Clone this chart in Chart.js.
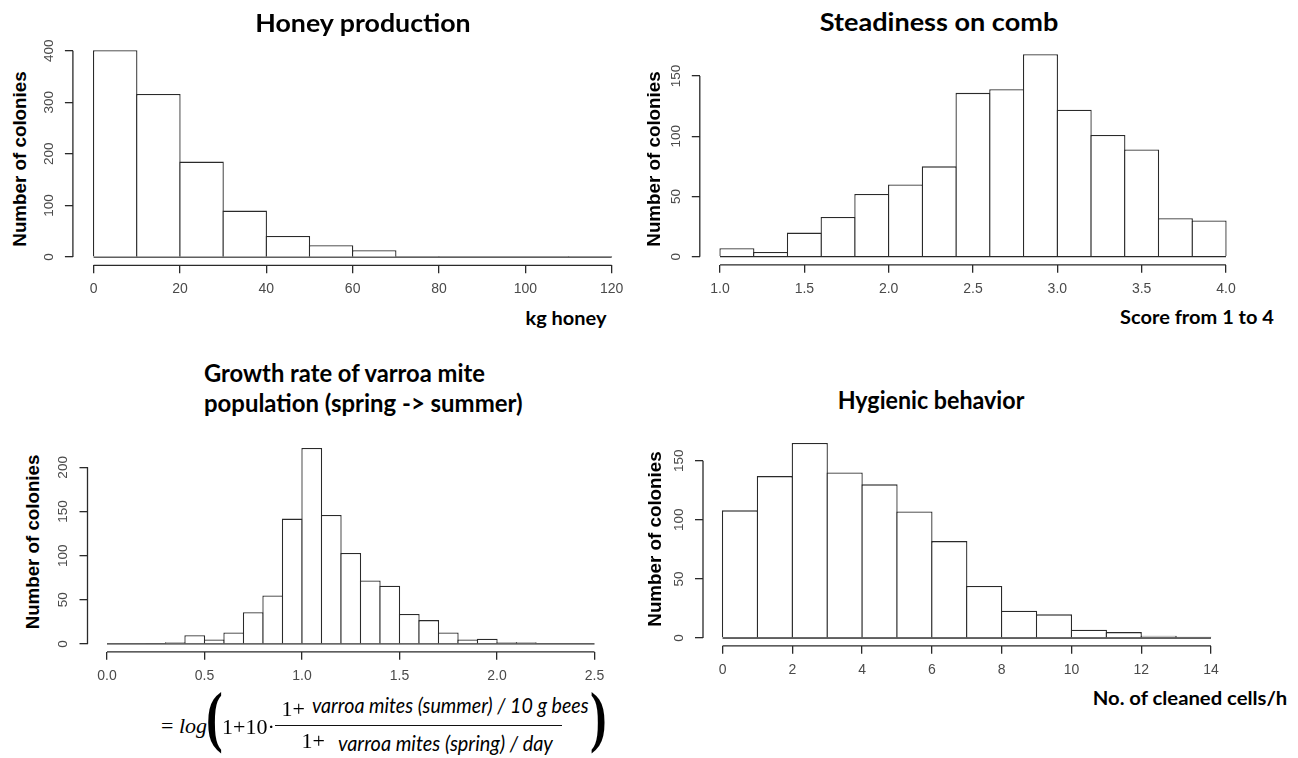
<!DOCTYPE html>
<html>
<head>
<meta charset="utf-8">
<script src="https://cdn.jsdelivr.net/npm/chart.js@4.4.1/dist/chart.umd.min.js"></script>
<style>
html, body { margin: 0; padding: 0; background: #fff; }
body { width: 1298px; height: 758px; position: relative; overflow: hidden; }
canvas { position: absolute; }
.t { position: absolute; white-space: nowrap; line-height: 1; color: #000; }
.ttl { font-family: Lato, "Open Sans", sans-serif; font-weight: 700; font-size: 24px; }
.xl { font-family: Lato, "Open Sans", sans-serif; font-weight: 700; font-size: 18px; }
.yl { font-family: "Liberation Sans", Arial, sans-serif; font-weight: 700; font-size: 19px; }
.ser { font-family: "Liberation Serif", "DejaVu Serif", serif; font-size: 22px; }
.it { font-family: Lato, "Open Sans", sans-serif; font-style: italic; font-size: 21px; }
.par { font-family: "Liberation Serif", "DejaVu Serif", serif; font-weight: 700; font-size: 68px; }
.frac { position: absolute; background: #111; }
</style>
</head>
<body>
<script>
// ---- data ----
const honeyBreaks = [0, 10, 20, 30, 40, 50, 60, 70, 80, 90, 100, 110, 120]
const honeyCounts = [401, 316, 185, 90, 41, 23, 13, 2, 0, 0, 0, 2]
const honeyXTicks = [0, 20, 40, 60, 80, 100, 120]
const honeyXLabels = ["0", "20", "40", "60", "80", "100", "120"]
const honeyYTicks = [0, 100, 200, 300, 400]
const honeyYLabels = ["0", "100", "200", "300", "400"]

const combBreaks = [1.0, 1.2, 1.4, 1.6, 1.8, 2.0, 2.2, 2.4, 2.6, 2.8, 3.0, 3.2, 3.4, 3.6, 3.8, 4.0]
const combCounts = [7, 4, 20, 33, 52, 60, 75, 136, 139, 168, 122, 101, 89, 32, 30]
const combXTicks = [1.0, 1.5, 2.0, 2.5, 3.0, 3.5, 4.0]
const combXLabels = ["1.0", "1.5", "2.0", "2.5", "3.0", "3.5", "4.0"]
const combYTicks = [0, 50, 100, 150]
const combYLabels = ["0", "50", "100", "150"]

const miteBreaks = [0.0, 0.1, 0.2, 0.3, 0.4, 0.5, 0.6, 0.7, 0.8, 0.9, 1.0, 1.1, 1.2,
                    1.3, 1.4, 1.5, 1.6, 1.7, 1.8, 1.9, 2.0, 2.1, 2.2, 2.3, 2.4, 2.5]
const miteCounts = [0, 0, 1, 2, 10, 5, 13, 36, 55, 142, 222, 146, 103,
                    72, 66, 34, 27, 13, 5, 6, 2, 2, 0, 0, 0]
const miteXTicks = [0.0, 0.5, 1.0, 1.5, 2.0, 2.5]
const miteXLabels = ["0.0", "0.5", "1.0", "1.5", "2.0", "2.5"]
const miteYTicks = [0, 50, 100, 150, 200]
const miteYLabels = ["0", "50", "100", "150", "200"]

const hygBreaks = [0, 1, 2, 3, 4, 5, 6, 7, 8, 9, 10, 11, 12, 13, 14]
const hygCounts = [108, 137, 165, 140, 130, 107, 82, 44, 23, 20, 7, 5, 2, 1]
const hygXTicks = [0, 2, 4, 6, 8, 10, 12, 14]
const hygXLabels = ["0", "2", "4", "6", "8", "10", "12", "14"]
const hygYTicks = [0, 50, 100, 150]
const hygYLabels = ["0", "50", "100", "150"]

// ---- look ----
const LINE = "#2a2a2a"
const TICK = "#4a4a4a"
const LW = 1.3
const Y_W = 40, X_H = 36, PAD_T = 6, PAD_R = 16

Chart.defaults.font.family = '"Liberation Sans", Arial, sans-serif'

// R style axes: the axis line only runs from the first to the last tick
const rAxes = {
    id: "rAxes",
    afterDraw(chart) {
        const { ctx, chartArea: a, scales: { x, y } } = chart
        const xt = x.ticks, yt = y.ticks
        ctx.save()
        ctx.strokeStyle = LINE
        ctx.lineWidth = LW
        ctx.beginPath()
        ctx.moveTo(x.getPixelForValue(xt[0].value), a.bottom)
        ctx.lineTo(x.getPixelForValue(xt[xt.length - 1].value), a.bottom)
        ctx.moveTo(a.left, y.getPixelForValue(yt[0].value))
        ctx.lineTo(a.left, y.getPixelForValue(yt[yt.length - 1].value))
        ctx.stroke()
        ctx.restore()
    }
}

function histPanel(p) {
    const box = p.box
    const cl = Math.floor(box.left - Y_W), ct = Math.floor(box.top - PAD_T)
    const w = Math.ceil(box.right + PAD_R - cl), h = Math.ceil(box.bottom + X_H - ct)
    const canvas = document.createElement("canvas")
    canvas.width = w
    canvas.height = h
    canvas.style.left = cl + "px"
    canvas.style.top = ct + "px"
    canvas.style.width = w + "px"
    canvas.style.height = h + "px"
    document.body.appendChild(canvas)

    const centers = p.breaks.slice(0, -1).map((b, i) => (b + p.breaks[i + 1]) / 2)
    const binPx = (p.breaks[1] - p.breaks[0]) * (box.right - box.left) / (p.xr[1] - p.xr[0])

    const axisGrid = { offset: false, drawOnChartArea: false, drawTicks: true, tickLength: 8, color: LINE, lineWidth: LW }

    new Chart(canvas, {
        type: "bar",
        data: {
            datasets: [
                {
                    type: "bar",
                    data: centers.map((c, i) => ({ x: c, y: p.counts[i] })),
                    backgroundColor: "#fff",
                    borderColor: LINE,
                    borderWidth: LW,
                    borderSkipped: "start",
                    barPercentage: 1 + LW / binPx,
                    categoryPercentage: 1,
                    inflateAmount: 0
                },
                {
                    type: "line",
                    data: [{ x: p.breaks[0], y: 0 }, { x: p.breaks[p.breaks.length - 1], y: 0 }],
                    borderColor: LINE,
                    borderWidth: LW,
                    pointRadius: 0,
                    fill: false
                }
            ]
        },
        options: {
            responsive: false,
            animation: false,
            events: [],
            layout: {
                padding: {
                    left: box.left - Y_W - cl,
                    top: box.top - ct,
                    right: w - (box.right - cl),
                    bottom: h - (box.bottom - ct) - X_H
                }
            },
            plugins: { legend: { display: false }, tooltip: { enabled: false } },
            scales: {
                x: {
                    type: "linear",
                    min: p.xr[0],
                    max: p.xr[1],
                    offset: false,
                    grid: axisGrid,
                    border: { display: false },
                    afterBuildTicks: s => { s.ticks = p.xTicks.map(v => ({ value: v })) },
                    afterFit: s => { s.height = X_H; s.paddingLeft = 0; s.paddingRight = 0 },
                    ticks: {
                        autoSkip: false, minRotation: 0, maxRotation: 0, padding: 7.6,
                        color: TICK, font: { size: 14 },
                        callback: (v, i) => p.xLabels[i]
                    }
                },
                y: {
                    type: "linear",
                    min: p.yr[0],
                    max: p.yr[1],
                    grid: axisGrid,
                    border: { display: false },
                    afterBuildTicks: s => { s.ticks = p.yTicks.map(v => ({ value: v })) },
                    afterFit: s => { s.width = Y_W; s.paddingTop = 0; s.paddingBottom = 0 },
                    ticks: {
                        autoSkip: false, minRotation: 90, maxRotation: 90, crossAlign: "center", padding: 4.5,
                        color: TICK, font: { size: 13.5 },
                        callback: (v, i) => p.yLabels[i]
                    }
                }
            }
        },
        plugins: [rAxes]
    })
}

histPanel({ breaks: honeyBreaks, counts: honeyCounts, xTicks: honeyXTicks, xLabels: honeyXLabels,
            yTicks: honeyYTicks, yLabels: honeyYLabels,
            box: { left: 72.9, right: 632.4, top: 41.9, bottom: 265.3 }, xr: [-4.8, 124.8], yr: [-16.04, 417.04] })
histPanel({ breaks: combBreaks, counts: combCounts, xTicks: combXTicks, xLabels: combXLabels,
            yTicks: combYTicks, yLabels: combYLabels,
            box: { left: 699.8, right: 1246.2, top: 46.2, bottom: 264.8 }, xr: [0.88, 4.12], yr: [-6.72, 174.72] })
histPanel({ breaks: miteBreaks, counts: miteCounts, xTicks: miteXTicks, xLabels: miteXLabels,
            yTicks: miteYTicks, yLabels: miteYLabels,
            box: { left: 87.5, right: 614, top: 440.1, bottom: 651.8 }, xr: [-0.1, 2.6], yr: [-8.88, 230.88] })
histPanel({ breaks: hygBreaks, counts: hygCounts, xTicks: hygXTicks, xLabels: hygXLabels,
            yTicks: hygYTicks, yLabels: hygYLabels,
            box: { left: 703, right: 1230.5, top: 435.2, bottom: 645.8 }, xr: [-0.56, 14.56], yr: [-6.6, 171.6] })

// ---- titles, axis labels and the formula ----
// [text, x, y (centre), class, target width, anchor: c centre / l left / r rotated]
const texts = [
    ["Honey production", 362.6, 22.5, "ttl", 215, "c"],
    ["Steadiness on comb", 938.5, 22, "ttl", 238, "c"],
    ["Growth rate of varroa mite", 204, 373.4, "ttl", 281, "l"],
    ["population (spring -&gt; summer)", 204, 403.4, "ttl", 318, "l"],
    ["Hygienic behavior", 930.5, 400, "ttl", 187, "c"],
    ["kg honey", 565.5, 318, "xl", 81, "c"],
    ["Score from 1 to 4", 1197.3, 317, "xl", 153.3, "c"],
    ["No. of cleaned cells/h", 1190, 698.3, "xl", 194.6, "c"],
    ["Number of colonies", 19.3, 159.2, "yl", 175, "r"],
    ["Number of colonies", 652.6, 159.2, "yl", 175, "r"],
    ["Number of colonies", 31.6, 542, "yl", 174.3, "r"],
    ["Number of colonies", 653.5, 539.2, "yl", 175, "r"],
    ["= <i>log</i>", 161, 726.1, "ser", 0, "l"],
    ["(", 206, 716, "par", 17, "l"],
    ["1+10·", 222, 727.1, "ser", 0, "l"],
    ["1+", 281.5, 709.3, "ser", 0, "l"],
    ["varroa mites (summer) / 10 g bees", 311.7, 703.6, "it", 277, "l"],
    ["1+", 301.5, 740.9, "ser", 0, "l"],
    ["varroa mites (spring) / day", 338.3, 741.9, "it", 215, "l"],
    [")", 590, 716, "par", 17, "l"]
]

const placed = []
texts.forEach(([txt, x, y, cls, tw, anchor]) => {
    const el = document.createElement("div")
    el.className = "t " + cls
    el.innerHTML = txt
    el.style.left = x + "px"
    el.style.top = y + "px"
    if (anchor === "l") {
        el.style.transformOrigin = "0 50%"
        el.dataset.base = "translate(0,-50%)"
    } else if (anchor === "r") {
        el.dataset.base = "translate(-50%,-50%) rotate(-90deg)"
    } else {
        el.dataset.base = "translate(-50%,-50%)"
    }
    el.style.transform = el.dataset.base
    document.body.appendChild(el)
    placed.push([el, tw])
})

const bar = document.createElement("div")
bar.className = "frac"
bar.style.left = "275px"
bar.style.top = "725.1px"
bar.style.width = "286.7px"
bar.style.height = "1.2px"
document.body.appendChild(bar)

function fitTexts() {
    placed.forEach(([el, tw]) => {
        const s = tw ? tw / el.offsetWidth : 1
        el.style.transform = el.dataset.base + " scaleX(" + s + ")"
    })
}
fitTexts()
document.fonts.ready.then(fitTexts)
</script>
</body>
</html>
